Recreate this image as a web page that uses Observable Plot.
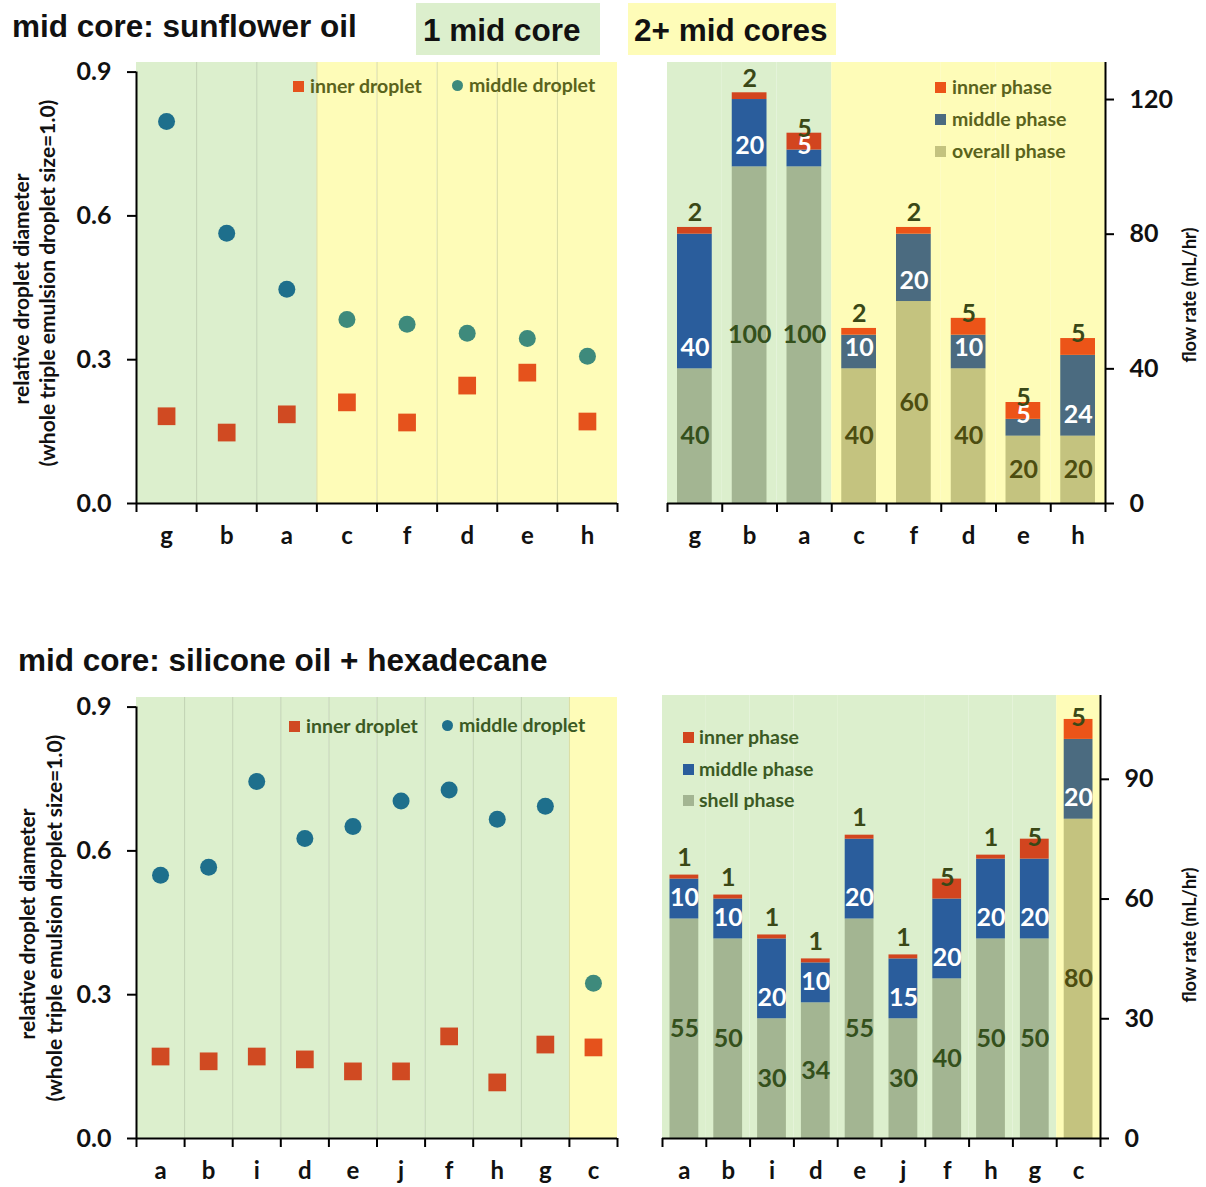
<!DOCTYPE html>
<html>
<head>
<meta charset="utf-8">
<script src="https://cdn.jsdelivr.net/npm/d3@7"></script>
<script src="https://cdn.jsdelivr.net/npm/@observablehq/plot@0.6"></script>
<style>
  body { margin: 0; background: #fff; }
  #root { position: relative; width: 1206px; height: 1187px; overflow: hidden; font-family: Lato, "Open Sans", sans-serif; }
  .abs { position: absolute; }
  .title { font-family: "Liberation Sans", Arial, sans-serif; font-weight: bold; font-size: 31.5px; color: #111; white-space: nowrap; line-height: 36px; }
  .tag { font-family: "Liberation Sans", Arial, sans-serif; font-weight: bold; font-size: 31.5px; color: #111; white-space: nowrap; box-sizing: border-box; line-height: 54px; }
  .legtext { font-family: Lato, "Open Sans", sans-serif; font-weight: bold; font-size: 19.5px; white-space: nowrap; line-height: 22px; }
  .plotbox { position: absolute; }
</style>
</head>
<body>
<div id="root"></div>
<script>
// ---------- DATA ----------
// Sunflower oil mid core (top row)
const sunCats = ["g", "b", "a", "c", "f", "d", "e", "h"];
const sunGroups = ["1", "1", "1", "2+", "2+", "2+", "2+", "2+"];
const sunMiddleDroplet = [0.797, 0.564, 0.447, 0.384, 0.374, 0.355, 0.344, 0.307];
const sunInnerDroplet = [0.182, 0.148, 0.186, 0.211, 0.169, 0.246, 0.273, 0.171];
const sunOverallFlow = [40, 100, 100, 40, 60, 40, 20, 20];
const sunMiddleFlow = [40, 20, 5, 10, 20, 10, 5, 24];
const sunInnerFlow = [2, 2, 5, 2, 2, 5, 5, 5];

// Silicone oil + hexadecane mid core (bottom row)
const silCats = ["a", "b", "i", "d", "e", "j", "f", "h", "g", "c"];
const silGroups = ["1", "1", "1", "1", "1", "1", "1", "1", "1", "2+"];
const silMiddleDroplet = [0.549, 0.566, 0.745, 0.626, 0.651, 0.704, 0.727, 0.666, 0.693, 0.324];
const silInnerDroplet = [0.171, 0.161, 0.171, 0.165, 0.140, 0.140, 0.213, 0.117, 0.196, 0.190];
const silShellFlow = [55, 50, 30, 34, 55, 30, 40, 50, 50, 80];
const silMiddleFlow = [10, 10, 20, 10, 20, 15, 20, 20, 20, 20];
const silInnerFlow = [1, 1, 1, 1, 1, 1, 5, 1, 5, 5];

const dropletTicks = [0, 0.3, 0.6, 0.9];
const sunFlowTicks = [0, 40, 80, 120];
const silFlowTicks = [0, 30, 60, 90];

// ---------- STYLE ----------
const pal = {
  "1":  {bg: "#dcefcd", inner: "#d2451f", middle: "#2a5d9c", base: "#a3b592", sq: "#d04a22", dot: "#1e6f8c", baseText: "#34501c"},
  "2+": {bg: "#fefcb8", inner: "#ec5418", middle: "#4b6b80", base: "#c4c37f", sq: "#e5521c", dot: "#3e8a7c", baseText: "#4d4d10"}
};
const FONT = "Lato, 'Open Sans', sans-serif";
const root = document.getElementById("root");

function place(el, left, top) {
  const box = document.createElement("div");
  box.className = "plotbox";
  box.style.left = left + "px";
  box.style.top = top + "px";
  box.appendChild(el);
  root.appendChild(box);
}

function scatterPanel({cats, groups, middle, inner, width, height, ml, mr, mt, mb, dx1, dx2}) {
  const n = cats.length;
  const rows = cats.map((c, i) => ({i, cat: c, group: groups[i], middle: middle[i], inner: inner[i]}));
  return Plot.plot({
    width, height, marginLeft: ml, marginRight: mr, marginTop: mt, marginBottom: mb,
    style: {fontFamily: FONT, background: "transparent", overflow: "visible"},
    color: {type: "identity"},
    x: {domain: [0, n]},
    y: {domain: [0, 0.92]},
    marks: [
      Plot.rect(rows, {x1: d => d.i, x2: d => d.i + 1, fill: d => pal[d.group].bg}),
      Plot.ruleX(d3.range(1, n), {stroke: "#7f8f70", strokeOpacity: 0.3, strokeWidth: 1}),
      Plot.ruleX([0], {y1: 0, y2: 0.9, stroke: "#000", strokeWidth: 2}),
      Plot.ruleY([0], {stroke: "#000", strokeWidth: 2}),
      Plot.axisY({ticks: dropletTicks, tickFormat: d3.format(".1f"), tickSize: 9, tickPadding: 16,
        stroke: "#000", strokeWidth: 2, fill: "#111", fontSize: 25, fontWeight: "bold", fontFamily: FONT, label: null}),
      Plot.axisX({ticks: d3.range(n + 1), tickFormat: () => "", tickSize: 9, stroke: "#000", strokeWidth: 2, label: null}),
      Plot.axisX({ticks: rows.map(d => d.i + 0.5), tickFormat: t => cats[Math.floor(t)], tickSize: 0, tickPadding: 23,
        fill: "#111", fontSize: 24, fontWeight: "bold", fontFamily: FONT, label: null}),
      Plot.dot(rows, {x: d => d.i + 0.5, y: "middle", r: 8.5, fill: d => pal[d.group].dot}),
      Plot.dot(rows, {x: d => d.i + 0.5, y: "inner", symbol: "square", r: 10, fill: d => pal[d.group].sq}),
      Plot.text(["relative droplet diameter"], {frameAnchor: "left", rotate: -90, dx: dx1, dy: 6, textAnchor: "middle",
        fontSize: 21, fontWeight: "bold", fill: "#111", fontFamily: FONT}),
      Plot.text(["(whole triple emulsion droplet size=1.0)"], {frameAnchor: "left", rotate: -90, dx: dx2, textAnchor: "middle",
        fontSize: 21, fontWeight: "bold", fill: "#111", fontFamily: FONT})
    ]
  });
}

function barPanel({cats, groups, base, middle, inner, ymax, ticks, width, height, ml, mr, mt, mb, inset, dxLabel, dyLabel}) {
  const n = cats.length;
  const rows = cats.map((c, i) => ({i, cat: c, group: groups[i]}));
  const segs = [];
  cats.forEach((c, i) => {
    const g = groups[i], b = base[i], m = middle[i], t = inner[i];
    segs.push({i, group: g, phase: "base", y1: 0, y2: b, value: b});
    segs.push({i, group: g, phase: "middle", y1: b, y2: b + m, value: m});
    segs.push({i, group: g, phase: "inner", y1: b + m, y2: b + m + t, value: t});
  });
  const lab = {fontSize: 25, fontWeight: "bold", fontFamily: FONT};
  return Plot.plot({
    width, height, marginLeft: ml, marginRight: mr, marginTop: mt, marginBottom: mb,
    style: {fontFamily: FONT, background: "transparent", overflow: "visible"},
    color: {type: "identity"},
    x: {domain: [0, n]},
    y: {domain: [0, ymax]},
    marks: [
      Plot.rect(rows, {x1: d => d.i, x2: d => d.i + 1, fill: d => pal[d.group].bg}),
      Plot.rect(segs, {x1: d => d.i, x2: d => d.i + 1, y1: "y1", y2: "y2", fill: d => pal[d.group][d.phase],
        insetLeft: inset, insetRight: inset}),
      Plot.ruleY([0], {stroke: "#000", strokeWidth: 2}),
      Plot.ruleX([n], {stroke: "#000", strokeWidth: 2}),
      Plot.axisY({anchor: "right", ticks, tickSize: 8, tickPadding: 16, stroke: "#000", strokeWidth: 2,
        fill: "#111", fontSize: 25, fontWeight: "bold", fontFamily: FONT, label: null}),
      Plot.axisX({ticks: d3.range(n + 1), tickFormat: () => "", tickSize: 9, stroke: "#000", strokeWidth: 2, label: null}),
      Plot.axisX({ticks: rows.map(d => d.i + 0.5), tickFormat: t => cats[Math.floor(t)], tickSize: 0, tickPadding: 23,
        fill: "#111", fontSize: 24, fontWeight: "bold", fontFamily: FONT, label: null}),
      Plot.text(segs.filter(d => d.phase === "base"), {x: d => d.i + 0.5, y: d => (d.y1 + d.y2) / 2,
        text: d => String(d.value), fill: d => pal[d.group].baseText, ...lab}),
      Plot.text(segs.filter(d => d.phase === "middle"), {x: d => d.i + 0.5, y: "y1", dy: -21,
        text: d => String(d.value), fill: "#ffffff", ...lab}),
      Plot.text(segs.filter(d => d.phase === "inner"), {x: d => d.i + 0.5, y: "y1", dy: -21,
        text: d => String(d.value), fill: "#3a4816", ...lab}),
      Plot.text(["flow rate (mL/hr)"], {frameAnchor: "right", rotate: -90, dx: dxLabel, dy: dyLabel, textAnchor: "middle",
        fontSize: 18, fontWeight: "bold", fill: "#111", fontFamily: FONT})
    ]
  });
}

// ---------- PANELS ----------
place(scatterPanel({cats: sunCats, groups: sunGroups, middle: sunMiddleDroplet, inner: sunInnerDroplet,
  width: 630, height: 520, ml: 136, mr: 13, mt: 12, mb: 67, dx1: -114, dx2: -88}), 0, 50);

place(barPanel({cats: sunCats, groups: sunGroups, base: sunOverallFlow, middle: sunMiddleFlow, inner: sunInnerFlow,
  ymax: 131, ticks: sunFlowTicks, width: 576, height: 520, ml: 37, mr: 101, mt: 12, mb: 67, inset: 10, dxLabel: 85, dyLabel: 12}), 630, 50);

place(scatterPanel({cats: silCats, groups: silGroups, middle: silMiddleDroplet, inner: silInnerDroplet,
  width: 630, height: 502, ml: 136, mr: 13, mt: 12, mb: 49, dx1: -108, dx2: -81}), 0, 685);

place(barPanel({cats: silCats, groups: silGroups, base: silShellFlow, middle: silMiddleFlow, inner: silInnerFlow,
  ymax: 111, ticks: silFlowTicks, width: 576, height: 502, ml: 32, mr: 106, mt: 10, mb: 49, inset: 7.5, dxLabel: 90, dyLabel: 18}), 630, 685);

// ---------- TITLES ----------
function addDiv(cls, text, css) {
  const d = document.createElement("div");
  d.className = "abs " + cls;
  d.textContent = text;
  Object.assign(d.style, css);
  root.appendChild(d);
  return d;
}
addDiv("title", "mid core: sunflower oil", {left: "12px", top: "8px"});
addDiv("tag", "1 mid core", {left: "416px", top: "3px", width: "184px", height: "52px", background: pal["1"].bg, paddingLeft: "7px"});
addDiv("tag", "2+ mid cores", {left: "628px", top: "3px", width: "208px", height: "52px", background: pal["2+"].bg, paddingLeft: "6px"});
addDiv("title", "mid core: silicone oil + hexadecane", {left: "18px", top: "642px"});

// ---------- LEGENDS ----------
function legendItem(cx, cy, shape, color, label, textColor, textX) {
  const s = document.createElement("div");
  s.className = "abs";
  const size = 11;
  Object.assign(s.style, {left: (cx - size / 2) + "px", top: (cy - size / 2) + "px", width: size + "px", height: size + "px",
    background: color, borderRadius: shape === "circle" ? "50%" : "0"});
  root.appendChild(s);
  addDiv("legtext", label, {left: textX + "px", top: (cy - 11) + "px", color: textColor});
}
// top-left
legendItem(298, 86, "square", pal["2+"].sq, "inner droplet", "#5a631c", 310);
legendItem(457, 85, "circle", pal["2+"].dot, "middle droplet", "#5a631c", 469);
// bottom-left
legendItem(294, 726, "square", pal["1"].sq, "inner droplet", "#3b5a24", 306);
legendItem(447, 725, "circle", pal["1"].dot, "middle droplet", "#3b5a24", 459);
// top-right
legendItem(940, 87, "square", pal["2+"].inner, "inner phase", "#5a631c", 952);
legendItem(940, 119, "square", pal["2+"].middle, "middle phase", "#5a631c", 952);
legendItem(940, 151, "square", pal["2+"].base, "overall phase", "#5a631c", 952);
// bottom-right
legendItem(688, 737, "square", pal["1"].inner, "inner phase", "#3b5a24", 699);
legendItem(688, 769, "square", pal["1"].middle, "middle phase", "#3b5a24", 699);
legendItem(688, 800, "square", pal["1"].base, "shell phase", "#3b5a24", 699);
</script>
</body>
</html>
